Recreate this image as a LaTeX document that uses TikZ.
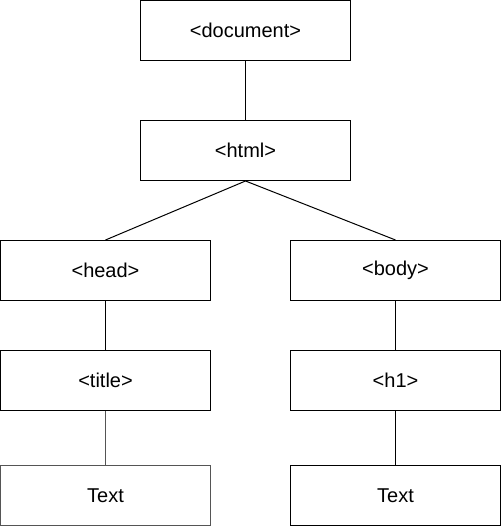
\documentclass[tikz,border=0pt]{standalone}
\usepackage{fontspec}
\setmainfont{Liberation Sans}
\definecolor{darkgr}{HTML}{555555}
\begin{document}
\begin{tikzpicture}[x=1pt,y=-1pt,
  tagbox/.style={draw=black,line width=1pt,minimum width=210pt,minimum height=60pt,inner sep=0pt,font=\fontsize{20}{23}\selectfont},
  link/.style={draw=black,line width=1pt}]
\useasboundingbox (0,0) rectangle (501,526);
\node[tagbox] (doc) at (245.5,30.5) {<document>};
\node[tagbox] (html) at (245.5,150.5) {<html>};
\node[tagbox] (head) at (105.5,270.5) {<head>};
\node[tagbox] (body) at (395.5,270.5) {<body>};
\node[tagbox] (title) at (105.5,380.5) {<title>};
\node[tagbox] (h1) at (395.5,380.5) {<h1>};
\node[tagbox,draw=darkgr] (text1) at (105.5,495.3) {Text};
\node[tagbox] (text2) at (395.5,495.3) {Text};
\draw[link] (doc.south) -- (html.north);
\draw[link] (html.south) -- (head.north);
\draw[link] (html.south) -- (body.north);
\draw[link] (head.south) -- (title.north);
\draw[link,draw=darkgr] (title.south) -- (text1.north);
\draw[link] (body.south) -- (h1.north);
\draw[link] (h1.south) -- (text2.north);
\end{tikzpicture}
\end{document}
